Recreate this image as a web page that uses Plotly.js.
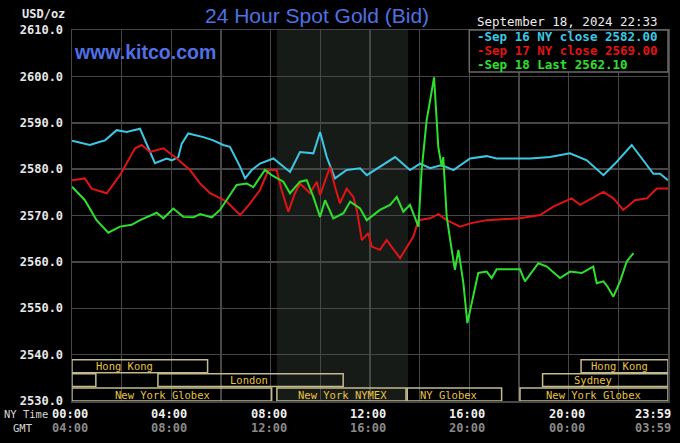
<!DOCTYPE html>
<html>
<head>
<meta charset="utf-8">
<script src="https://cdn.plot.ly/plotly-3.0.1.min.js"></script>
<style>html,body{margin:0;padding:0;background:#000;}#chart{width:680px;height:443px;}</style>
</head>
<body>
<div id="chart"></div>
<script>
// ---- Data (hours NY time, price USD/oz) ----
const hoursSep16 = [0.00,0.72,1.13,1.33,1.80,2.20,2.74,2.94,3.34,3.81,4.02,4.28,4.42,4.68,5.29,5.69,6.09,6.36,6.77,6.97,7.24,7.57,8.11,8.78,9.18,9.72,9.99,10.26,10.59,11.06,11.60,11.87,12.40,13.01,13.61,14.02,14.42,14.89,15.36,16.03,16.70,17.10,18.45,19.25,20.05,20.73,21.40,21.87,22.54,23.01,23.41,23.68,24.00];
const pricesSep16 = [2586.1,2585.2,2585.9,2586.2,2588.4,2588.0,2588.7,2586.2,2581.3,2582.3,2581.9,2582.6,2585.5,2587.7,2586.9,2586.2,2585.2,2584.8,2580.5,2578.0,2579.8,2581.2,2582.3,2579.4,2583.7,2583.4,2588.0,2582.6,2578.0,2579.8,2580.2,2578.7,2580.5,2582.6,2579.8,2581.2,2580.2,2580.9,2579.8,2582.3,2582.8,2582.3,2582.3,2582.6,2583.4,2581.9,2578.7,2581.2,2585.2,2581.9,2579.0,2579.0,2577.6];

const hoursSep17 = [0.00,0.52,0.79,1.40,1.93,2.54,2.81,3.14,3.68,4.22,4.75,5.16,5.56,6.23,6.77,7.17,7.57,7.91,8.24,8.44,8.71,8.98,9.18,9.58,9.86,9.99,10.39,10.59,10.79,11.06,11.33,11.47,11.67,11.93,12.07,12.40,12.67,13.21,13.75,13.95,14.42,14.75,15.09,15.63,16.03,16.70,18.04,18.85,19.38,20.12,20.46,21.06,21.40,21.80,22.20,22.67,23.15,23.55,24.00];
const pricesSep17 = [2577.6,2578.0,2575.8,2574.8,2578.7,2584.5,2585.2,2583.7,2584.5,2582.3,2579.8,2576.9,2574.8,2573.0,2570.1,2572.6,2575.5,2579.8,2579.8,2575.5,2570.8,2574.8,2576.9,2574.8,2577.3,2574.4,2580.5,2576.2,2572.6,2575.8,2574.0,2571.2,2564.7,2566.2,2563.3,2562.6,2564.7,2560.8,2565.5,2569.0,2569.4,2570.3,2569.0,2567.6,2568.3,2569.0,2569.4,2570.1,2571.9,2573.7,2572.3,2574.0,2575.1,2573.7,2571.2,2573.3,2573.7,2575.8,2575.8];

const hoursSep18 = [0.00,0.52,0.99,1.46,1.93,2.40,2.74,3.41,3.68,4.08,4.48,4.89,5.16,5.63,5.96,6.23,6.63,7.04,7.30,7.77,8.04,8.51,8.78,9.18,9.45,9.72,9.99,10.19,10.52,10.93,11.20,11.60,11.87,12.40,12.81,13.08,13.34,13.61,13.95,14.08,14.28,14.42,14.58,14.75,14.89,14.95,15.09,15.29,15.42,15.56,15.76,15.92,16.10,16.36,16.70,16.90,17.10,18.04,18.24,18.78,19.12,19.65,20.06,20.53,20.99,21.13,21.40,21.56,21.80,22.07,22.34,22.61];
const pricesSep18 = [2576.2,2573.3,2569.0,2566.3,2567.6,2568.0,2569.0,2570.6,2569.4,2571.5,2569.7,2569.6,2570.3,2569.6,2571.2,2573.3,2576.6,2576.9,2576.1,2579.8,2578.7,2577.3,2574.8,2577.3,2577.6,2574.0,2569.7,2573.3,2569.4,2570.5,2573.0,2571.5,2569.0,2571.2,2572.3,2574.0,2570.8,2572.3,2567.6,2579.8,2590.5,2594.8,2599.8,2584.8,2580.5,2582.6,2569.7,2562.6,2558.3,2562.6,2555.4,2546.8,2551.1,2557.6,2557.9,2556.5,2558.4,2558.4,2555.8,2559.7,2559.0,2556.5,2557.9,2557.6,2559.0,2555.4,2555.8,2554.7,2552.5,2555.8,2560.1,2561.9];

const seriesNames = ["Sep 16 NY close 2582.00", "Sep 17 NY close 2569.00", "Sep 18 Last 2562.10"];
const nyTickLabels = ["00:00","04:00","08:00","12:00","16:00","20:00","23:59"];
const gmtTickLabels = ["04:00","08:00","12:00","16:00","20:00","00:00","03:59"];
const tickHours = [0,4,8,12,16,20,23.983];

// market sessions: name, start hour, end hour, row (1 top .. 3 bottom)
const sessionNames  = ["Hong Kong","","London","New York Globex","New York NYMEX","NY Globex","New York Globex","Sydney","Hong Kong"];
const sessionStarts = [0, 0, 3.46, 0, 8.25, 13.5, 18.04, 18.95, 20.5];
const sessionEnds   = [5.46, 0.96, 10.92, 8.04, 13.45, 17.3, 24, 24, 24];
const sessionRows   = [1, 2, 2, 3, 3, 3, 3, 2, 1];
const nymexShade = [8.25, 13.53];

// ---- Styling ----
const colors = ["#3cc8e4", "#e01414", "#2ee02e"];
const mono = "DejaVu Sans Mono, monospace";
const blue = "#5070e4";
const rowY = {1:[2536.1,2538.9], 2:[2533.1,2535.9], 3:[2530.0,2532.8]};
const labelX = [2.10, null, 7.14, 3.63, 10.89, 15.18, 20.98, 20.96, 22.05];

const traces = [
  {x: hoursSep16, y: pricesSep16, mode: "lines", line: {color: colors[0], width: 2}, hoverinfo: "skip"},
  {x: hoursSep17, y: pricesSep17, mode: "lines", line: {color: colors[1], width: 2}, hoverinfo: "skip"},
  {x: hoursSep18, y: pricesSep18, mode: "lines", line: {color: colors[2], width: 2}, hoverinfo: "skip"}
];

const shapes = [
  {type: "rect", xref: "x", yref: "y", x0: nymexShade[0], x1: nymexShade[1], y0: 2530, y1: 2610,
   fillcolor: "#171b17", line: {width: 0}, layer: "below"}
];
const annotations = [];
sessionNames.forEach((n, i) => {
  const r = rowY[sessionRows[i]];
  shapes.push({type: "rect", xref: "x", yref: "y", x0: sessionStarts[i], x1: sessionEnds[i], y0: r[0], y1: r[1],
    line: {color: "#c4bb8c", width: 1.5}, fillcolor: "rgba(0,0,0,0)", layer: "above"});
  if (n) annotations.push({xref: "x", yref: "y", x: labelX[i], y: (r[0] + r[1]) / 2, text: n, showarrow: false,
    font: {family: mono, size: 10.5, color: "#e8c244"}, xanchor: "center", yanchor: "middle"});
});

// legend box
shapes.push({type: "rect", xref: "paper", yref: "paper", x0: 0.6666, x1: 1, y0: 0.8866, y1: 1,
  fillcolor: "#000", line: {color: "#6a6a6a", width: 1.5}, layer: "above"});
seriesNames.forEach((n, i) => {
  annotations.push({xref: "paper", yref: "paper", x: 0.6666, y: 1, xanchor: "left", yanchor: "middle",
    xshift: 6, yshift: -(6 + 14 * i), text: "-" + n, showarrow: false,
    font: {family: mono, size: 12.5, color: colors[i], weight: "bold"}});
});

// x tick labels (two rows)
tickHours.forEach((h, i) => {
  const last = i === tickHours.length - 1;
  annotations.push({xref: "x", yref: "paper", x: h, y: 0, xanchor: last ? "right" : "center", yanchor: "middle",
    xshift: last ? 5 : -2, yshift: -13, text: nyTickLabels[i], showarrow: false,
    font: {family: mono, size: 12, color: "#f0f0f0", weight: "bold"}});
  annotations.push({xref: "x", yref: "paper", x: h, y: 0, xanchor: last ? "right" : "center", yanchor: "middle",
    xshift: last ? 5 : -2, yshift: -27, text: gmtTickLabels[i], showarrow: false,
    font: {family: mono, size: 12, color: "#8a8a8a", weight: "bold"}});
});
annotations.push({xref: "paper", yref: "paper", x: 0, y: 0, xanchor: "left", yanchor: "middle", xshift: -70, yshift: -13,
  text: "NY Time", showarrow: false, font: {family: mono, size: 10.5, color: "#d8d8d8"}});
annotations.push({xref: "paper", yref: "paper", x: 0, y: 0, xanchor: "left", yanchor: "middle", xshift: -61, yshift: -27,
  text: "GMT", showarrow: false, font: {family: mono, size: 10.5, color: "#d8d8d8"}});

// titles and texts
annotations.push({xref: "paper", yref: "paper", x: 0.411, y: 1, xanchor: "center", yanchor: "middle", yshift: 15,
  text: "24 Hour Spot Gold (Bid)", showarrow: false, font: {family: "Liberation Sans, Arial, sans-serif", size: 21, color: blue}});
annotations.push({xref: "paper", yref: "paper", x: 0, y: 1, xanchor: "left", yanchor: "middle", xshift: 0, yshift: -22,
  text: "www.kitco.com", showarrow: false, font: {family: "Liberation Sans, Arial, sans-serif", size: 19.5, color: blue, weight: "bold"}});
annotations.push({xref: "paper", yref: "paper", x: 0.676, y: 1, xanchor: "left", yanchor: "middle", yshift: 9,
  text: "September 18, 2024 22:33", showarrow: false, font: {family: mono, size: 12.5, color: "#ececec"}});
annotations.push({xref: "paper", yref: "paper", x: 0, y: 1, xanchor: "right", yanchor: "middle", xshift: -5, yshift: 16,
  text: "USD/oz", showarrow: false, font: {family: mono, size: 12, color: "#e8e8e8", weight: "bold"}});

const layout = {
  width: 680, height: 443,
  margin: {l: 72, r: 12, t: 30, b: 42},
  paper_bgcolor: "#000", plot_bgcolor: "#000",
  showlegend: false,
  xaxis: {range: [0, 24], dtick: 2, tick0: 0, showticklabels: false, ticks: "",
    showgrid: true, gridcolor: "#474747", gridwidth: 1.5, zeroline: false,
    showline: true, linecolor: "#474747", linewidth: 1.5, mirror: true},
  yaxis: {range: [2530, 2610], dtick: 10, tick0: 2530, tickformat: ".1f", ticks: "",
    tickfont: {family: mono, size: 12, color: "#e8e8e8", weight: "bold"}, ticklabelstandoff: 5,
    showgrid: true, gridcolor: "#474747", gridwidth: 1.5, zeroline: false,
    showline: true, linecolor: "#474747", linewidth: 1.5, mirror: true},
  shapes: shapes,
  annotations: annotations
};

Plotly.newPlot("chart", traces, layout, {displayModeBar: false, staticPlot: true});
</script>
</body>
</html>
